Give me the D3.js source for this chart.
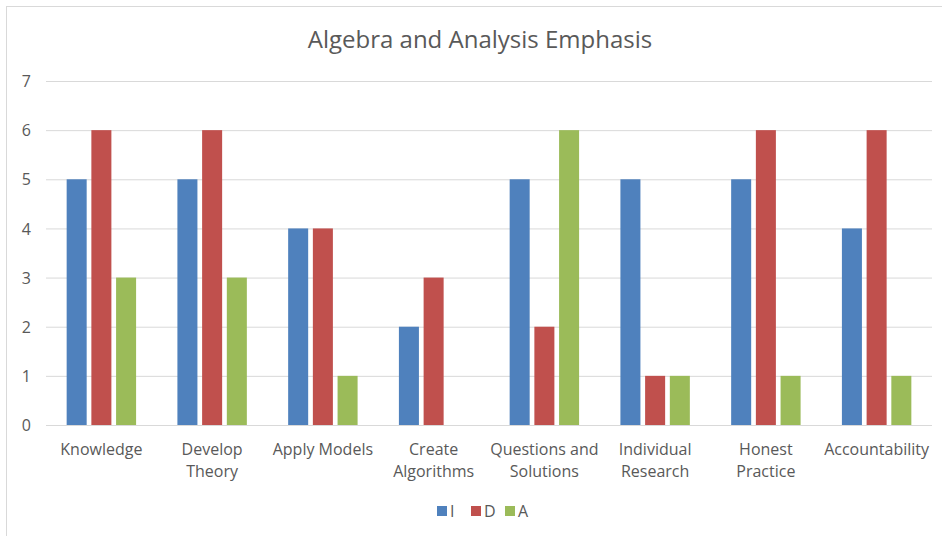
<!DOCTYPE html>
<head>
<meta charset="utf-8">
<style>
  body { margin: 0; background: white; }
  svg { font-family: 'Open Sans', 'Liberation Sans', sans-serif; }
  .title { fill: #595959; font-size: 24px; }
  .leg { fill: #595959; font-size: 16px; }
</style>
</head>
<body>
<script src="https://d3js.org/d3.v7.min.js"></script>
<script>
  // DATA
  const categories = [["Knowledge"], ["Develop", "Theory"], ["Apply Models"], ["Create", "Algorithms"],
    ["Questions and", "Solutions"], ["Individual", "Research"], ["Honest", "Practice"], ["Accountability"]];
  const seriesNames = ["I", "D", "A"];
  const valuesI = [5, 5, 4, 2, 5, 5, 5, 4];
  const valuesD = [6, 6, 4, 3, 2, 1, 6, 6];
  const valuesA = [3, 3, 1, 0, 6, 1, 1, 1];
  const yTicks = [0, 1, 2, 3, 4, 5, 6, 7];
  const colors = ["#4F81BD", "#C0504D", "#9BBB59"];

  const series = [valuesI, valuesD, valuesA];

  width = 942, height = 536;

  svg = d3.select('body').append('svg')
    .attr('width', width).attr('height', height);

  // chart border
  svg.append('rect')
    .attr('x', 6.5).attr('y', 6.5)
    .attr('width', 960).attr('height', 560)
    .attr('fill', 'white')
    .attr('stroke', '#d9d9d9');

  // SCALES
  const catIdx = categories.map((d, i) => i);
  x0 = d3.scaleBand(catIdx, [46, 932]).paddingInner(0.373).paddingOuter(0.1865);
  x1 = d3.scaleBand(seriesNames, [0, x0.bandwidth()]).paddingInner(0.19);
  y = d3.scaleLinear([0, 7], [425, 81]);

  // GRID + Y AXIS
  yAxis = d3.axisLeft(y).tickValues(yTicks).tickFormat(d3.format('d'))
    .tickSize(-(932 - 46)).tickPadding(15);
  yG = svg.append('g').attr('transform', 'translate(46,0)').call(yAxis)
    .attr('font-family', null).attr('font-size', null);
  yG.select('.domain').remove();
  yG.selectAll('.tick line').attr('stroke', '#d9d9d9');
  yG.selectAll('.tick text')
    .attr('fill', '#595959')
    .style('font-size', '16px')
    .attr('dy', '0.35em');

  // BARS
  catIdx.forEach(i => {
    seriesNames.forEach((s, j) => {
      const v = series[j][i];
      svg.append('rect')
        .attr('x', x0(i) + x1(s))
        .attr('y', y(v))
        .attr('width', x1.bandwidth())
        .attr('height', y(0) - y(v))
        .attr('fill', colors[j]);
    });
  });

  // zero line
  svg.append('line')
    .attr('x1', 46).attr('x2', 932)
    .attr('y1', y(0) + 0.5).attr('y2', y(0) + 0.5)
    .attr('stroke', '#d9d9d9');

  // X LABELS
  catIdx.forEach(i => {
    const cx = x0(i) + x0.bandwidth() / 2;
    const t = svg.append('text')
      .attr('text-anchor', 'middle')
      .attr('x', cx)
      .attr('y', 455)
      .attr('fill', '#595959')
      .style('font-size', '16px');
    categories[i].forEach((line, k) => {
      t.append('tspan')
        .attr('x', cx)
        .attr('dy', k === 0 ? 0 : 22)
        .text(line);
    });
  });

  // TITLE
  svg.append('text')
    .attr('class', 'title')
    .attr('x', 480).attr('y', 48)
    .attr('text-anchor', 'middle')
    .text('Algebra and Analysis Emphasis');

  // LEGEND
  const legX = [437, 471, 505];
  seriesNames.forEach((s, j) => {
    svg.append('rect')
      .attr('x', legX[j]).attr('y', 506)
      .attr('width', 10).attr('height', 10)
      .attr('fill', colors[j]);
    svg.append('text')
      .attr('class', 'leg')
      .attr('x', legX[j] + 13).attr('y', 517)
      .text(s);
  });
</script>
</body>
